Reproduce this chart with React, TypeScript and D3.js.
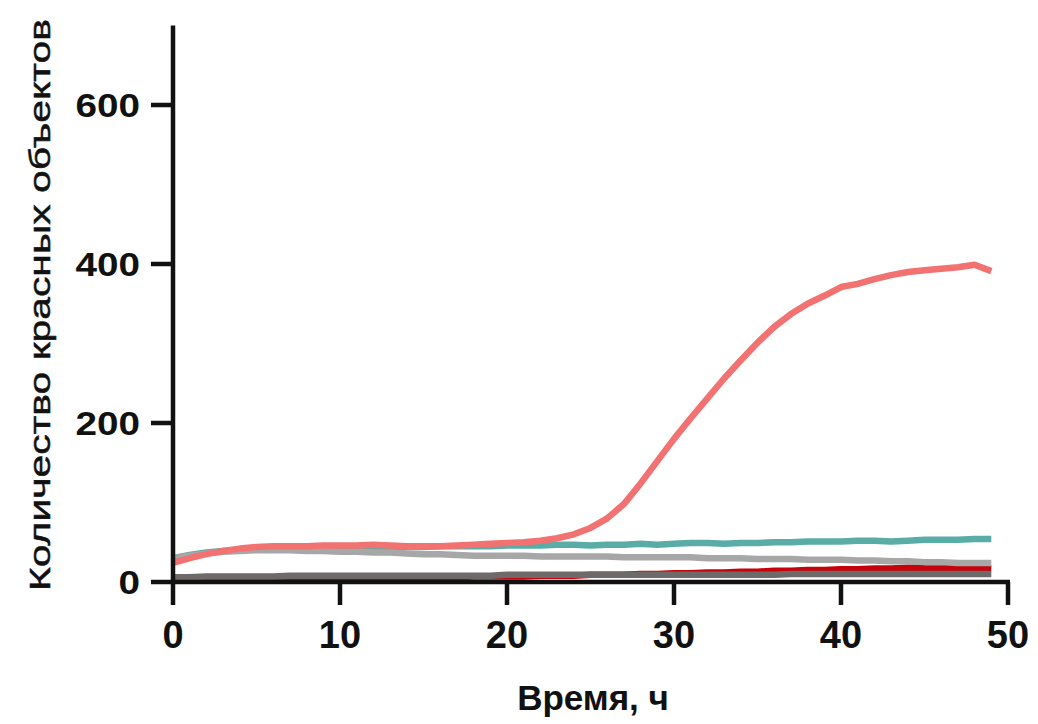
import React from "react";
import * as d3 from "d3";

const hours: number[] = Array.from({ length: 50 }, (_, i) => i);

const redSeries = [24, 30, 35, 39, 42, 44, 45, 45, 45, 46, 46, 46, 47, 46, 45, 45, 45, 46, 47, 48, 49, 50, 52, 55, 60, 68, 80, 98, 124, 152, 180, 206, 231, 256, 279, 301, 321, 337, 350, 360, 371, 375, 381, 386, 390, 392, 394, 396, 399, 391];
const tealSeries = [30, 34, 37, 39, 40, 41, 42, 42, 43, 43, 43, 43, 44, 44, 44, 44, 45, 45, 45, 45, 46, 46, 46, 47, 47, 46, 47, 47, 48, 47, 48, 49, 49, 48, 49, 49, 50, 50, 51, 51, 51, 52, 52, 51, 52, 53, 53, 53, 54, 54];
const graySeries = [30, 33, 36, 38, 39, 40, 40, 40, 39, 39, 38, 38, 37, 37, 36, 35, 35, 34, 33, 33, 33, 33, 32, 32, 32, 32, 32, 31, 31, 31, 31, 31, 30, 30, 30, 29, 29, 29, 28, 28, 28, 27, 27, 26, 26, 25, 25, 24, 24, 24];
const darkRedSeries = [3, 3, 3, 4, 4, 4, 4, 5, 5, 5, 5, 5, 5, 6, 6, 6, 6, 6, 7, 7, 7, 7, 8, 8, 8, 9, 9, 9, 10, 10, 11, 11, 12, 12, 13, 13, 14, 14, 15, 15, 16, 16, 17, 17, 18, 18, 18, 18, 18, 17];
const darkGraySeries = [6, 6, 7, 7, 7, 7, 7, 8, 8, 8, 8, 8, 8, 8, 8, 8, 8, 8, 8, 8, 9, 9, 9, 9, 9, 9, 9, 9, 9, 9, 9, 9, 9, 9, 9, 9, 9, 10, 10, 10, 10, 10, 10, 10, 10, 10, 10, 10, 10, 10];

const xTicks = [0, 10, 20, 30, 40, 50];
const yTicks = [0, 200, 400, 600];

const seriesList = [
  { name: "darkred", values: darkRedSeries, color: "#c8000a" },
  { name: "darkgray", values: darkGraySeries, color: "#6f6a6a" },
  { name: "teal", values: tealSeries, color: "#5aada6" },
  { name: "gray", values: graySeries, color: "#a7a7a7" },
  { name: "red", values: redSeries, color: "#f27272" },
];

export default function App() {
  const W = 1038;
  const H = 724;
  const x = d3.scaleLinear().domain([0, 50]).range([173, 1008]);
  const y = d3.scaleLinear().domain([0, 600]).range([582, 105]);
  const yTop = y(700);
  const line = d3
    .line<number>()
    .x((_, i) => x(hours[i]))
    .y((d) => y(d));
  const font = "'Liberation Sans', Arial, sans-serif";
  return (
    <svg width={W} height={H} style={{ position: "absolute", left: 0, top: 0, background: "#fff" }} fontFamily={font}>
      {seriesList.map((s) => (
        <path key={s.name} d={line(s.values) || ""} fill="none" stroke={s.color} strokeWidth={6.5} strokeLinejoin="round" strokeLinecap="butt" />
      ))}
      {/* axes */}
      <line x1={x(0)} x2={x(0)} y1={yTop} y2={y(0) + 2} stroke="#111" strokeWidth={4.5} />
      <line x1={x(0) - 2} x2={x(50) + 2} y1={y(0)} y2={y(0)} stroke="#111" strokeWidth={4.5} />
      {yTicks.map((t) => (
        <g key={"y" + t}>
          <line x1={x(0) - 22} x2={x(0)} y1={y(t)} y2={y(t)} stroke="#111" strokeWidth={4.5} />
          <text
            x={140}
            y={y(t) + 12}
            textAnchor="end"
            fontSize={34}
            fontWeight="bold"
            fill="#111"
            textLength={String(t).length * 21.5}
            lengthAdjust="spacingAndGlyphs"
          >
            {t}
          </text>
        </g>
      ))}
      {xTicks.map((t) => (
        <g key={"x" + t}>
          <line x1={x(t)} x2={x(t)} y1={y(0)} y2={y(0) + 23} stroke="#111" strokeWidth={4.5} />
          <text x={x(t)} y={648} textAnchor="middle" fontSize={38} fontWeight="bold" fill="#111">
            {t}
          </text>
        </g>
      ))}
      <text x={593} y={710} textAnchor="middle" fontSize={35} fontWeight="bold" fill="#111">
        Время, ч
      </text>
      <text
        transform="translate(50,305) rotate(-90)"
        x={0}
        y={0}
        textAnchor="middle"
        fontSize={30}
        fill="#111"
        stroke="#111"
        strokeWidth={0.5}
        textLength={572}
        lengthAdjust="spacingAndGlyphs"
      >
        Количество красных объектов
      </text>
    </svg>
  );
}
